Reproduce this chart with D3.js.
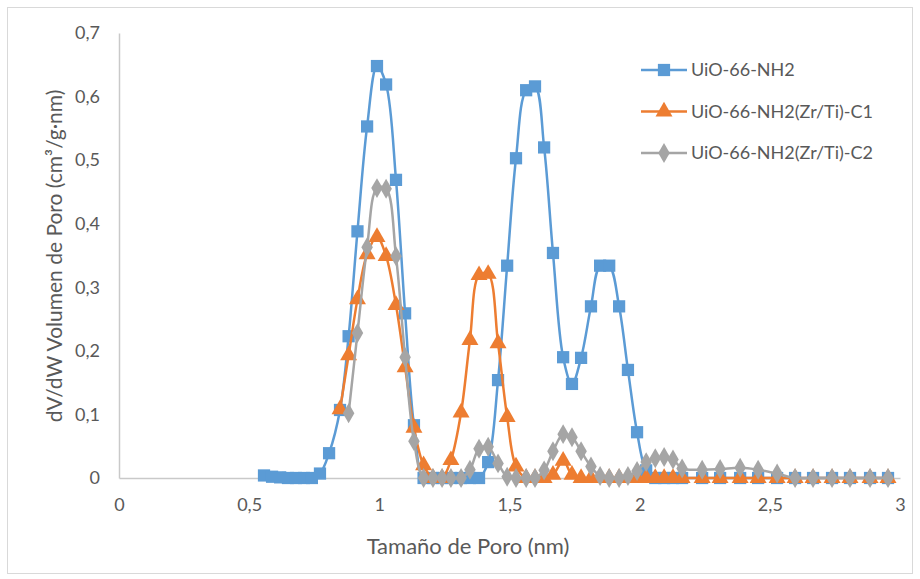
<!DOCTYPE html>
<html>
<head>
<meta charset="utf-8">
<script src="https://cdn.jsdelivr.net/npm/d3@7"></script>
<style>
  body { margin: 0; background: #fff; }
  text { font-family: Lato, "Open Sans", sans-serif; fill: #595959; }
</style>
</head>
<body>
<div id="chart"></div>
<script>
// pore size grid (nm), shared by the three samples
const poreSize = [0.557, 0.588, 0.619, 0.649, 0.680, 0.711, 0.741, 0.772, 0.807, 0.849,
  0.882, 0.916, 0.953, 0.991, 1.026, 1.064, 1.099, 1.133, 1.170, 1.206,
  1.241, 1.275, 1.314, 1.348, 1.383, 1.418, 1.456, 1.491, 1.525, 1.564,
  1.598, 1.633, 1.667, 1.706, 1.740, 1.775, 1.813, 1.848, 1.883, 1.921,
  1.955, 1.990, 2.025, 2.060, 2.094, 2.128, 2.163, 2.240, 2.309, 2.386,
  2.455, 2.528, 2.597, 2.666, 2.739, 2.808, 2.885, 2.954];

const uio = [0.004, 0.002, 0.001, 0, 0, 0, 0, 0.007, 0.039, 0.107,
  0.223, 0.388, 0.553, 0.648, 0.619, 0.469, 0.259, 0.083, 0, 0,
  0, 0, 0, 0, 0, 0.025, 0.154, 0.334, 0.503, 0.610,
  0.616, 0.520, 0.354, 0.190, 0.148, 0.189, 0.270, 0.334, 0.334, 0.270,
  0.170, 0.072, 0.012, 0, 0, 0, 0, 0, 0, 0,
  0, 0, 0, 0, 0, 0, 0, 0];

const uioC1 = [null, null, null, null, null, null, null, null, null, 0.108,
  0.193, 0.281, 0.352, 0.379, 0.349, 0.272, 0.174, 0.079, 0.020, 0,
  0, 0.028, 0.103, 0.217, 0.319, 0.321, 0.212, 0.096, 0.018, 0,
  0, 0, 0.005, 0.027, 0.005, 0, 0, 0, 0, 0,
  0, 0, 0, 0, 0, 0, 0, 0, 0, 0,
  0, 0, 0, 0, 0, 0, 0, 0];

const uioC2 = [null, null, null, null, null, null, null, null, null, null,
  0.102, 0.228, 0.363, 0.456, 0.455, 0.349, 0.190, 0.058, 0, 0,
  0, 0, 0, 0.013, 0.046, 0.049, 0.023, 0.002, 0, 0,
  0, 0.012, 0.042, 0.069, 0.064, 0.042, 0.018, 0.003, 0, 0,
  0.003, 0.011, 0.025, 0.031, 0.033, 0.029, 0.015, 0.013, 0.014, 0.016,
  0.013, 0.007, 0, 0, 0, 0, 0, 0];

const seriesNames = ["UiO-66-NH2", "UiO-66-NH2(Zr/Ti)-C1", "UiO-66-NH2(Zr/Ti)-C2"];
const xTicks = [0, 0.5, 1, 1.5, 2, 2.5, 3];
const yTicks = [0, 0.1, 0.2, 0.3, 0.4, 0.5, 0.6, 0.7];

const Color = { Blue: "#5b9bd5", Orange: "#ed7d31", Gray: "#a5a5a5", Axis: "#c9c9c9" };

const W = 920, H = 579;
const svg = d3.select("#chart").append("svg")
  .attr("width", W).attr("height", H);

svg.append("rect")
  .attr("x", 7.5).attr("y", 7.5).attr("width", 905).attr("height", 566)
  .attr("fill", "#fff").attr("stroke", "#d9d9d9");

const x = d3.scaleLinear().domain([0, 3]).range([119, 900]);
const y = d3.scaleLinear().domain([0, 0.7]).range([478, 33]);
const fmt = d => String(d).replace(".", ",");

// axes
const gx = svg.append("g").attr("transform", `translate(0,${y(0)})`)
  .call(d3.axisBottom(x).tickValues(xTicks).tickFormat(fmt).tickSize(0).tickPadding(20));
const gy = svg.append("g").attr("transform", `translate(${x(0)},0)`)
  .call(d3.axisLeft(y).tickValues(yTicks).tickFormat(fmt).tickSize(0).tickPadding(19));
[gx, gy].forEach(g => {
  g.select(".domain").attr("stroke", Color.Axis).attr("stroke-width", 1.5);
  g.selectAll("text").style("font-size", "18px").attr("fill", "#595959");
});

svg.append("text")
  .attr("x", 468).attr("y", 554)
  .attr("text-anchor", "middle").style("font-size", "22px")
  .text("Tamaño de Poro (nm)");

svg.append("text")
  .attr("transform", "translate(62,256) rotate(-90)")
  .attr("text-anchor", "middle").style("font-size", "21px")
  .text("dV/dW Volumen de Poro (cm³/g·nm)");

// markers
const symbols = [d3.symbolSquare, d3.symbolTriangle, d3.symbolDiamond];
const symSize = [150, 125, 115];
const colors = [Color.Blue, Color.Orange, Color.Gray];
const values = [uio, uioC1, uioC2];

const line = d3.line()
  .defined(d => d.v != null)
  .x(d => x(d.p)).y(d => y(d.v))
  .curve(d3.curveCatmullRom);

values.forEach((vals, i) => {
  const data = poreSize.map((p, j) => ({p, v: vals[j]}));
  const g = svg.append("g");
  g.append("path")
    .datum(data)
    .attr("d", line)
    .attr("fill", "none")
    .attr("stroke", colors[i])
    .attr("stroke-width", 2.5);
  g.selectAll("path.pt")
    .data(data.filter(d => d.v != null))
    .enter().append("path")
      .attr("class", "pt")
      .attr("d", d3.symbol().type(symbols[i]).size(symSize[i]))
      .attr("transform", d => `translate(${x(d.p)},${y(d.v)})`)
      .attr("fill", colors[i]);
});

// legend
const legend = svg.append("g");
seriesNames.forEach((name, i) => {
  const ly = 70 + i * 41.5;
  legend.append("line")
    .attr("x1", 641).attr("x2", 687).attr("y1", ly).attr("y2", ly)
    .attr("stroke", colors[i]).attr("stroke-width", 2.5);
  legend.append("path")
    .attr("d", d3.symbol().type(symbols[i]).size(symSize[i]))
    .attr("transform", `translate(664,${ly})`)
    .attr("fill", colors[i]);
  legend.append("text")
    .attr("x", 691).attr("y", ly).attr("dy", "0.35em")
    .style("font-size", "18px")
    .text(name);
});
</script>
</body>
</html>
